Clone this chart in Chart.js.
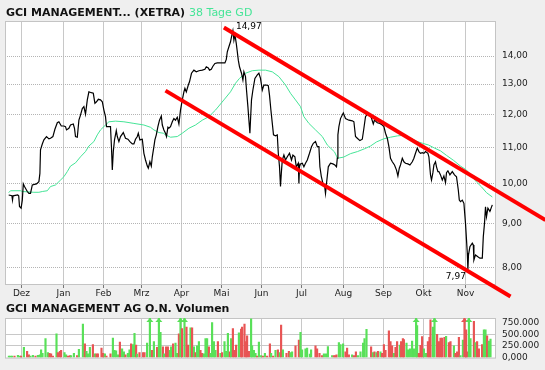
<!DOCTYPE html>
<html>
<head>
<meta charset="utf-8">
<script src="https://cdn.jsdelivr.net/npm/chart.js@4.4.1/dist/chart.umd.min.js"></script>
<style>
  html, body { margin: 0; padding: 0; background: #efefef; overflow: hidden; }
  #wrap { position: relative; width: 545px; height: 370px; font-family: 'DejaVu Sans', Verdana, sans-serif; }
  #priceChart { position: absolute; left: 0; top: 0; }
  #volChart { position: absolute; left: 0; top: 300px; }
  .title { position: absolute; left: 6px; font-size: 11px; font-weight: bold; color: #111; white-space: nowrap; line-height: 13px; }
  .title .gd { color: #45e597; font-weight: normal; }
</style>
</head>
<body>
<div id="wrap">
  <canvas id="priceChart" width="545" height="300"></canvas>
  <canvas id="volChart" width="545" height="70"></canvas>
  <div class="title" style="top:6px">GCI MANAGEMENT... (XETRA) <span class="gd">38 Tage GD</span></div>
  <div class="title" style="top:302px">GCI MANAGEMENT AG O.N. Volumen</div>
</div>
<script>
// x values are trading sessions counted from the first session in December
const monthStarts = [0, 21, 41, 60, 80, 100, 120, 140, 161, 181, 201, 222];
const monthNames = ['Dez', 'Jan', 'Feb', 'Mrz', 'Apr', 'Mai', 'Jun', 'Jul', 'Aug', 'Sep', 'Okt', 'Nov'];
const priceTicks = [8, 9, 10, 11, 12, 13, 14];
const volumeTicks = [0, 250000, 500000, 750000];

// [session, close]
const closes = [
  [-6.4,9.70],[-4.8,9.68],[-4.5,9.57],[-4.2,9.68],[-1.9,9.70],[-1.4,9.68],[-1.0,9.41],[-0.2,9.37],[0.4,9.57],[0.9,9.99],
  [1.5,9.92],[2.9,9.79],[3.7,9.74],[4.5,9.74],[5.4,9.96],[7.5,9.99],[8.7,10.05],[9.2,10.27],[9.5,10.93],[10.4,11.10],
  [11.2,11.22],[12.5,11.32],[13.7,11.25],[14.5,11.27],[15.7,11.32],[16.7,11.54],[17.9,11.74],[18.7,11.77],[19.9,11.64],[21.2,11.64],
  [22.0,11.62],[22.5,11.52],[23.7,11.57],[24.5,11.67],[25.9,11.70],[26.5,11.57],[27.0,11.32],[27.9,11.30],[28.7,11.82],[29.5,11.98],
  [30.4,12.19],[31.2,12.25],[32.0,12.01],[32.9,12.47],[33.7,12.74],[34.9,12.71],[35.9,12.69],[36.7,12.36],[37.5,12.41],[38.4,12.49],
  [39.5,12.47],[40.4,12.41],[41.2,12.14],[42.0,11.93],[42.5,11.62],[44.5,11.62],[45.0,10.98],[45.4,10.36],[45.9,10.88],[46.5,11.22],
  [47.4,11.50],[47.9,11.32],[48.7,11.17],[49.5,11.32],[50.9,11.44],[52.0,11.27],[53.2,11.24],[54.2,11.17],[55.4,11.10],[56.2,11.10],
  [57.0,11.24],[57.9,11.32],[58.4,11.42],[59.2,11.22],[60.4,11.24],[61.2,10.83],[62.0,10.64],[62.9,10.47],[63.4,10.41],[64.2,10.59],
  [64.9,10.47],[65.4,10.73],[66.2,11.02],[66.7,11.22],[67.4,11.37],[68.2,11.62],[69.0,11.82],[69.9,11.95],[70.4,11.67],[71.2,11.52],
  [72.0,11.42],[72.5,11.32],[73.2,11.60],[73.7,11.57],[74.5,11.62],[75.4,11.77],[76.2,11.87],[77.0,11.82],[77.9,11.91],[78.7,11.70],
  [79.5,12.14],[80.4,12.47],[81.2,12.74],[81.7,12.86],[82.4,12.74],[83.4,12.97],[84.0,13.08],[85.0,13.38],[86.2,13.49],[87.4,13.43],
  [88.7,13.47],[90.4,13.49],[91.7,13.52],[92.4,13.61],[93.4,13.57],[94.0,13.49],[94.9,13.52],[95.7,13.63],[96.7,13.73],[97.9,13.75],
  [99.5,13.75],[101.7,13.75],[102.4,13.88],[102.9,14.16],[103.7,14.35],[104.5,14.54],[105.0,14.73],[105.7,14.97],[106.2,14.60],[106.7,14.80],
  [107.0,14.67],[107.4,14.47],[107.9,14.16],[108.4,13.85],[109.0,13.61],[110.0,13.38],[110.7,13.14],[111.2,13.43],[112.0,13.26],[112.5,12.80],
  [113.2,12.25],[113.7,11.82],[114.2,11.42],[114.5,11.82],[115.0,12.47],[115.7,12.80],[116.7,13.20],[117.9,13.32],[118.7,13.38],[119.5,13.20],
  [120.4,12.80],[121.2,12.97],[122.4,12.97],[123.4,12.95],[124.0,12.63],[124.7,12.14],[125.4,11.72],[126.0,11.37],[127.0,11.34],[127.9,11.37],
  [128.4,10.83],[129.0,10.45],[129.5,9.92],[129.9,10.27],[130.4,10.64],[131.2,10.78],[132.0,10.64],[132.9,10.73],[134.0,10.83],[135.0,10.64],
  [135.7,10.78],[136.7,10.73],[137.4,10.45],[138.4,10.55],[138.7,10.00],[139.0,10.45],[139.5,10.53],[140.4,10.55],[141.2,10.45],[142.0,10.55],
  [142.9,10.64],[144.0,10.83],[145.0,11.02],[145.9,11.12],[147.0,11.17],[147.9,11.02],[148.7,11.02],[149.2,10.45],[149.9,10.19],[150.7,10.00],
  [151.5,9.96],[152.0,9.74],[152.5,10.00],[153.4,10.45],[154.5,10.55],[155.7,10.53],[156.7,10.50],[157.5,10.45],[157.9,10.69],[158.2,11.37],
  [158.7,11.62],[159.5,11.87],[160.9,12.05],[162.0,11.87],[163.7,11.82],[165.4,11.80],[166.2,11.77],[167.0,11.32],[167.9,11.27],[169.2,11.20],
  [170.4,11.24],[171.2,11.57],[172.0,11.93],[172.9,12.01],[174.5,11.98],[175.9,11.70],[176.5,11.82],[177.9,11.74],[179.2,11.72],[180.4,11.67],
  [181.2,11.62],[182.0,11.42],[182.9,11.27],[183.7,11.02],[184.5,10.69],[185.4,10.59],[186.5,10.50],[187.5,10.36],[188.2,10.20],[188.9,10.41],
  [189.5,10.50],[190.4,10.69],[191.2,10.59],[192.0,10.55],[193.2,10.53],[194.2,10.50],[195.4,10.59],[196.2,10.69],[197.0,10.83],[197.9,10.98],
  [198.7,10.88],[199.5,10.83],[200.4,10.85],[201.2,10.83],[202.0,10.88],[203.2,10.83],[203.7,10.73],[204.5,10.23],[205.0,10.09],[205.7,10.29],
  [206.2,10.50],[207.0,10.59],[207.5,10.45],[208.2,10.32],[208.7,10.32],[209.5,10.23],[210.4,10.09],[211.2,10.20],[212.0,10.02],[212.5,10.29],
  [213.2,10.34],[214.2,10.23],[215.4,10.32],[216.5,10.23],[217.5,10.18],[218.4,9.83],[218.9,9.57],[219.5,9.53],[220.4,9.57],[221.2,9.49],
  [222.0,9.00],[222.9,8.32],[223.2,7.97],[223.5,8.28],[224.2,8.46],[225.4,8.54],[225.9,8.50],[226.2,8.17],[227.0,8.28],[228.2,8.24],
  [229.2,8.21],[230.4,8.21],[230.9,8.69],[231.5,9.00],[232.0,9.40],[232.5,9.16],[233.2,9.37],[234.2,9.29],[235.4,9.45]
];

// 38 Tage GD: [session, average]
const avg38 = [
  [-6.4,9.76],[-5.5,9.81],[-0.5,9.81],[0.4,9.79],[6.2,9.77],[8.7,9.77],[10.4,9.79],[12.9,9.81],[14.5,9.92],[17.0,9.96],
  [19.5,10.09],[21.2,10.18],[22.9,10.32],[24.5,10.47],[27.0,10.56],[29.5,10.73],[32.0,10.88],[33.7,11.04],[36.2,11.17],[37.9,11.37],
  [39.5,11.52],[42.0,11.67],[43.7,11.77],[47.0,11.79],[51.2,11.77],[56.2,11.72],[61.2,11.67],[64.5,11.60],[66.2,11.52],[68.7,11.44],
  [70.9,11.42],[72.0,11.37],[74.5,11.30],[77.9,11.32],[80.4,11.42],[83.7,11.57],[87.0,11.67],[90.4,11.82],[93.7,11.93],[97.0,12.14],
  [101.2,12.47],[104.5,12.74],[107.0,13.03],[109.0,13.20],[112.0,13.38],[115.4,13.47],[118.7,13.49],[122.0,13.49],[125.4,13.43],[128.7,13.26],
  [132.0,12.97],[134.5,12.69],[137.0,12.47],[139.5,12.25],[141.2,11.93],[143.7,11.72],[147.0,11.52],[150.4,11.32],[152.9,11.07],[154.5,10.98],
  [156.5,10.87],[158.0,10.69],[161.0,10.72],[164.5,10.82],[168.0,10.88],[171.5,10.96],[174.5,11.04],[177.5,11.16],[181.0,11.25],[184.5,11.30],
  [188.0,11.34],[191.5,11.36],[194.5,11.28],[197.5,11.18],[200.5,11.12],[203.5,11.07],[206.5,10.98],[209.5,10.90],[212.5,10.77],[216.0,10.63],
  [219.5,10.47],[222.5,10.36],[225.0,10.20],[227.5,10.04],[230.0,9.91],[232.5,9.76],[235.4,9.65]
];

// trend channel, two points each
const trendUpper = [[101.2, 15.10], [262, 9.08]];
const trendLower = [[72, 12.78], [244.5, 7.42]];

// [session, shares, up day]
const volume = [
  [-6.3,31000,1],[-5.5,31000,1],[-4.7,31000,1],[-3.5,31000,0],[-1.8,50000,1],[-0.8,31000,1],[-0.2,31000,0],[1.2,219000,1],[2.8,137000,0],[3.7,62000,0],
  [4.5,31000,1],[5.7,50000,1],[7.0,31000,0],[8.2,50000,1],[9.2,62000,1],[9.8,169000,1],[10.5,94000,1],[12.0,406000,1],[13.2,106000,1],[14.0,94000,0],
  [14.8,81000,0],[15.7,31000,0],[17.5,512000,1],[18.2,106000,0],[19.2,137000,0],[19.8,156000,0],[21.5,106000,1],[22.3,62000,1],[23.2,31000,0],[24.2,44000,0],
  [24.8,44000,1],[26.2,94000,1],[27.8,44000,0],[28.7,175000,1],[30.7,719000,1],[31.7,294000,0],[32.5,137000,1],[33.2,81000,1],[34.2,219000,1],[35.7,281000,0],
  [36.7,81000,1],[37.5,81000,0],[38.2,81000,0],[40.0,206000,0],[40.8,94000,0],[41.7,81000,1],[42.5,31000,0],[44.5,81000,0],[45.7,419000,1],[46.5,156000,1],
  [47.3,144000,1],[48.3,62000,1],[49.2,331000,0],[50.3,187000,1],[51.2,125000,1],[52.0,62000,0],[53.2,94000,1],[54.0,169000,1],[54.8,294000,0],[55.8,281000,1],
  [56.5,519000,1],[57.3,269000,0],[57.8,75000,1],[59.0,106000,0],[60.8,106000,0],[61.5,106000,0],[62.8,312000,1],[64.2,1000000,1],[65.3,156000,0],[66.2,344000,1],
  [67.8,219000,0],[68.7,1000000,1],[69.5,544000,1],[70.7,231000,0],[71.2,81000,1],[72.3,231000,0],[73.2,231000,0],[74.2,156000,1],[74.8,231000,1],[75.8,294000,0],
  [77.0,312000,1],[77.8,94000,1],[78.7,512000,0],[79.5,1000000,1],[80.3,625000,0],[81.5,1000000,1],[82.5,656000,0],[83.3,269000,0],[84.5,637000,1],[85.3,637000,0],
  [86.2,231000,1],[87.0,106000,0],[87.8,250000,1],[88.7,344000,1],[89.5,156000,0],[90.3,94000,0],[91.2,81000,1],[92.0,406000,1],[92.8,406000,1],[93.7,231000,0],
  [94.5,94000,1],[95.3,750000,1],[96.2,344000,1],[97.0,156000,1],[98.2,344000,0],[99.5,94000,1],[100.3,106000,0],[101.5,344000,1],[102.3,137000,1],[103.2,519000,1],
  [104.2,125000,0],[104.8,406000,1],[105.7,625000,0],[106.5,156000,0],[107.3,269000,0],[108.7,531000,1],[109.8,612000,0],[110.3,656000,0],[111.5,719000,0],[112.3,344000,0],
  [112.8,469000,0],[113.7,137000,0],[114.8,830000,1],[115.3,250000,1],[116.2,156000,1],[117.0,94000,1],[117.8,31000,0],[118.7,331000,1],[119.8,44000,1],[120.7,31000,0],
  [121.7,94000,1],[122.8,31000,0],[124.2,294000,0],[124.8,94000,1],[125.8,31000,0],[127.0,156000,1],[128.2,169000,0],[129.2,106000,1],
  [129.8,700000,0],[130.7,169000,1],[132.5,94000,0],[133.7,137000,0],[134.5,106000,1],[135.3,125000,1],[137.0,250000,0],[138.7,375000,0],[139.5,544000,1],[140.3,169000,1],
  [142.0,187000,1],[142.8,206000,1],[144.2,75000,1],[144.8,169000,1],[147.0,250000,0],[147.8,187000,0],[149.0,94000,0],[150.3,44000,0],[151.2,81000,1],[152.3,81000,1],
  [153.2,237000,1],[155.3,44000,1],[156.2,44000,0],[157.0,44000,0],[157.5,62000,0],[158.7,325000,1],[159.5,281000,1],[160.8,294000,1],[162.0,125000,0],[162.8,206000,0],
  [163.7,62000,0],[165.3,62000,1],[166.2,44000,0],[167.2,125000,0],[168.2,44000,1],[169.5,125000,1],[170.8,312000,1],[171.5,406000,1],[172.5,606000,1],[174.8,231000,0],
  [175.7,106000,1],[176.5,125000,0],[177.5,106000,1],[178.2,137000,0],[179.5,125000,1],[180.3,94000,0],[181.2,281000,0],[182.0,156000,0],[183.7,575000,0],[184.5,344000,0],
  [185.3,250000,0],[186.2,94000,1],[187.0,219000,0],[187.8,344000,0],[189.2,269000,1],[189.8,344000,0],[190.7,406000,0],[191.2,387000,0],[192.5,312000,1],[193.3,169000,1],
  [194.2,187000,1],[195.3,356000,1],[196.2,187000,1],[197.3,1000000,1],[197.8,687000,1],[198.7,94000,0],[199.5,262000,0],[200.3,450000,0],[201.2,187000,1],[202.3,94000,1],
  [203.2,344000,0],[204.0,437000,0],[204.5,812000,0],[205.7,656000,1],[206.5,1000000,1],[207.8,500000,0],[208.7,344000,0],[209.5,419000,0],[210.3,419000,0],[211.5,437000,0],
  [212.3,456000,1],[213.7,325000,0],[214.5,344000,0],[216.2,250000,1],[217.0,94000,0],[217.8,125000,0],[218.7,437000,0],[219.5,44000,1],[220.7,375000,1],[221.5,1000000,0],
  [222.3,594000,0],[222.8,125000,0],[223.7,1000000,1],[224.5,406000,1],[226.2,781000,0],[227.0,325000,1],[227.8,344000,0],[228.7,187000,0],[230.3,281000,0],[231.2,594000,1],
  [232.0,594000,1],[232.8,469000,0],[233.7,356000,1],[234.5,400000,1]
];

const GREEN = '#58e058';
const RED = '#e85454';
const tickFont = { family: 'DejaVu Sans', size: 9 };

const toPoints = (rows) => rows.map(([x, y]) => ({ x, y }));
const fmtPrice = (v) => v.toFixed(2).replace('.', ',');

function monthAxis(showLabels) {
  return {
    type: 'linear',
    min: -8.25,
    max: 236.75,
    offset: false,
    afterBuildTicks: (s) => { s.ticks = monthStarts.map((v) => ({ value: v })); },
    afterFit: (s) => { s.height = showLabels ? 16 : 6; },
    grid: { color: '#c8c8c8', offset: false, drawTicks: showLabels, tickLength: 4, tickColor: '#777' },
    border: { display: false },
    ticks: {
      display: showLabels, autoSkip: false, maxRotation: 0, padding: 0,
      color: '#222', font: tickFont,
      callback: (v, i) => monthNames[i]
    }
  };
}

// grey page, white plot, thin frame
const frame = {
  id: 'frame',
  beforeDraw(chart) {
    const { ctx, chartArea: a } = chart;
    ctx.save();
    ctx.fillStyle = '#efefef';
    ctx.fillRect(0, 0, chart.width, chart.height);
    ctx.fillStyle = '#fff';
    ctx.fillRect(a.left, a.top, a.right - a.left, a.bottom - a.top);
    ctx.restore();
  },
  beforeDatasetsDraw(chart) {
    const { ctx, chartArea: a } = chart;
    ctx.save();
    ctx.strokeStyle = '#c4c4c4';
    ctx.lineWidth = 1;
    ctx.strokeRect(a.left + 0.5, a.top + 0.5, a.right - a.left, a.bottom - a.top);
    ctx.restore();
  }
};

const extremeLabels = {
  id: 'extremeLabels',
  afterDatasetsDraw(chart) {
    const { ctx, scales: { x, y } } = chart;
    const hi = closes.reduce((a, b) => (b[1] > a[1] ? b : a));
    const lo = closes.reduce((a, b) => (b[1] < a[1] ? b : a));
    ctx.save();
    ctx.font = '9px "DejaVu Sans"';
    ctx.fillStyle = '#000';
    ctx.textBaseline = 'middle';
    ctx.textAlign = 'left';
    ctx.fillText(fmtPrice(hi[1]), x.getPixelForValue(hi[0]) + 3, y.getPixelForValue(hi[1]) - 4);
    ctx.textAlign = 'right';
    ctx.fillText(fmtPrice(lo[1]), x.getPixelForValue(lo[0]) - 2, y.getPixelForValue(lo[1]) + 7);
    ctx.restore();
  }
};

// arrow heads on bars that run past the top of the volume panel
const capArrows = {
  id: 'capArrows',
  afterDatasetsDraw(chart) {
    const { ctx, chartArea: a, scales: { x, y } } = chart;
    ctx.save();
    volume.forEach(([d, v, up]) => {
      if (v <= y.max) return;
      const px = x.getPixelForValue(d);
      ctx.fillStyle = up ? GREEN : RED;
      ctx.beginPath();
      ctx.moveTo(px, a.top);
      ctx.lineTo(px - 3.5, a.top + 4);
      ctx.lineTo(px + 3.5, a.top + 4);
      ctx.closePath();
      ctx.fill();
    });
    ctx.restore();
  }
};

new Chart(document.getElementById('priceChart'), {
  type: 'line',
  data: {
    datasets: [
      { label: 'Trend oben', data: toPoints(trendUpper), borderColor: '#ff0000', borderWidth: 4, pointRadius: 0, clip: false },
      { label: 'Trend unten', data: toPoints(trendLower), borderColor: '#ff0000', borderWidth: 4, pointRadius: 0, clip: false },
      { label: 'XETRA', data: toPoints(closes), borderColor: '#000', borderWidth: 1.2, pointRadius: 0 },
      { label: '38 Tage GD', data: toPoints(avg38), borderColor: '#45e597', borderWidth: 1, pointRadius: 0 }
    ]
  },
  options: {
    responsive: false,
    animation: false,
    layout: { padding: { left: 5, top: 21, right: 0, bottom: 0 } },
    plugins: { legend: { display: false }, tooltip: { enabled: false } },
    scales: {
      x: monthAxis(true),
      y: {
        type: 'logarithmic',
        position: 'right',
        min: 7.668,
        max: 15.36,
        afterBuildTicks: (s) => { s.ticks = priceTicks.map((v) => ({ value: v })); },
        afterFit: (s) => { s.width = 50; },
        grid: { color: '#b4b4b4', drawTicks: false },
        border: { display: false, dash: [1, 1] },
        ticks: { autoSkip: false, padding: 7, color: '#222', font: tickFont, callback: (v) => fmtPrice(v) }
      }
    }
  },
  plugins: [frame, extremeLabels]
});

new Chart(document.getElementById('volChart'), {
  type: 'bar',
  data: {
    datasets: [{
      label: 'Volumen',
      data: toPoints(volume),
      backgroundColor: volume.map((r) => (r[2] ? GREEN : RED)),
      barThickness: 1.5
    }]
  },
  options: {
    responsive: false,
    animation: false,
    layout: { padding: { left: 5, top: 18, right: 0, bottom: 0 } },
    plugins: { legend: { display: false }, tooltip: { enabled: false } },
    scales: {
      x: monthAxis(false),
      y: {
        type: 'linear',
        position: 'right',
        min: 0,
        max: 850000,
        afterBuildTicks: (s) => { s.ticks = volumeTicks.map((v) => ({ value: v })); },
        afterFit: (s) => { s.width = 50; },
        grid: {
          drawTicks: false,
          color: (c) => (c.tick && (c.tick.value === 250000 || c.tick.value === 500000) ? '#c8c8c8' : 'rgba(0,0,0,0)')
        },
        border: { display: false },
        ticks: {
          autoSkip: false, padding: 7, color: '#222', font: tickFont,
          callback: (v) => (v === 0 ? '0,000' : (v / 1000) + '.000')
        }
      }
    }
  },
  plugins: [frame, capArrows]
});
</script>
</body>
</html>
